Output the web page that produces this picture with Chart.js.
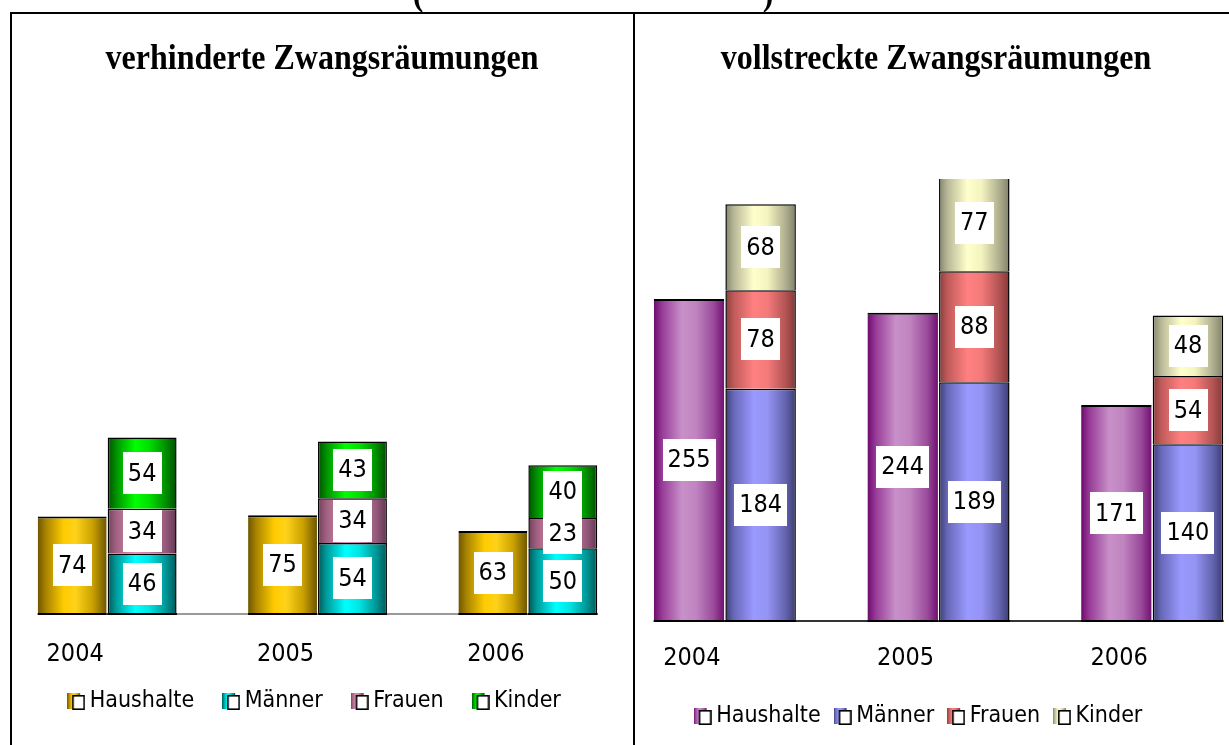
<!DOCTYPE html>
<html><head><meta charset="utf-8">
<script src="https://cdn.jsdelivr.net/npm/chart.js@4.4.1/dist/chart.umd.min.js"></script>
<style>
html,body{margin:0;padding:0;background:#fff;overflow:hidden;width:1229px;height:745px;}
#wrap{position:relative;width:1229px;height:745px;overflow:hidden;background:#fff;}
.c{position:absolute;top:0;}
.line{position:absolute;background:#000;z-index:5;}
.title{position:absolute;font-family:"Liberation Serif","Times New Roman",serif;font-weight:bold;font-size:32px;line-height:32px;white-space:nowrap;z-index:6;transform:translateX(-50%) scaleY(1.1);color:#000;}
</style></head><body>
<div id="wrap">
<div class="c" style="left:0;width:634px;height:780px;"><canvas id="c1"></canvas></div>
<div class="c" style="left:612px;width:660px;height:760px;"><canvas id="c2"></canvas></div>
<div class="line" style="left:10px;top:12px;width:1219px;height:2px"></div>
<div class="line" style="left:10px;top:12px;width:2px;height:733px"></div>
<div class="line" style="left:633px;top:12px;width:2px;height:733px"></div>
<div class="title" style="left:418px;top:-23px">(</div>
<div class="title" style="left:768px;top:-23px">)</div>
<div class="title" style="left:322px;top:41px">verhinderte Zwangsräumungen</div>
<div class="title" style="left:936px;top:41px">vollstreckte Zwangsräumungen</div>
</div>
<script>
// ---- data ----
const years = ['2004', '2005', '2006'];
const seriesNames = ['Haushalte', 'Männer', 'Frauen', 'Kinder'];
const verhHaushalte = [74, 75, 63];
const verhMaenner = [46, 54, 50];
const verhFrauen = [34, 34, 23];
const verhKinder = [54, 43, 40];
const vollHaushalte = [255, 244, 171];
const vollMaenner = [184, 189, 140];
const vollFrauen = [78, 88, 54];
const vollKinder = [68, 77, 48];

// ---- styles ----
const FAMILY = '"DejaVu Sans Condensed", "DejaVu Sans", sans-serif';
const leftStops = [
  [[0,'#6e5600'],[0.12,'#a88400'],[0.38,'#ffcc00'],[0.55,'#ffd21a'],[0.8,'#c9a000'],[1,'#6e5600']],
  [[0,'#005858'],[0.12,'#009a9a'],[0.4,'#00ffff'],[0.6,'#00e4e4'],[0.85,'#009494'],[1,'#005858']],
  [[0,'#704058'],[0.12,'#a06080'],[0.4,'#e090b4'],[0.6,'#cc80a2'],[0.85,'#94587a'],[1,'#603850']],
  [[0,'#005000'],[0.12,'#009000'],[0.4,'#00ff00'],[0.6,'#00e000'],[0.85,'#008c00'],[1,'#004c00']]
];
const rightStops = [
  [[0,'#6e0a6e'],[0.12,'#983c98'],[0.4,'#c890c8'],[0.6,'#c084c0'],[0.85,'#9a4a9a'],[1,'#701070']],
  [[0,'#3c3c78'],[0.12,'#6868b8'],[0.4,'#9999ff'],[0.6,'#9494f4'],[0.85,'#6464b0'],[1,'#3c3c74']],
  [[0,'#8a3c3c'],[0.12,'#c05a5a'],[0.4,'#ff8080'],[0.6,'#f47a7a'],[0.85,'#b45454'],[1,'#843838']],
  [[0,'#84846a'],[0.12,'#b8b898'],[0.4,'#ffffcc'],[0.6,'#f4f4c0'],[0.85,'#b0b090'],[1,'#80806a']]
];

function makeMarker(stops) {
  const c = document.createElement('canvas');
  c.width = 18; c.height = 17;
  const x = c.getContext('2d');
  const g = x.createLinearGradient(0, 0, 13, 0);
  stops.forEach(s => g.addColorStop(s[0], s[1]));
  x.fillStyle = g; x.fillRect(0, 0, 13, 16);
  x.fillStyle = '#fff'; x.fillRect(5, 2, 12, 14);
  x.strokeStyle = '#000'; x.lineWidth = 1.6; x.strokeRect(5.8, 2.8, 11.2, 13.4);
  return c;
}

const gradientPlugin = {
  id: 'cylGrad',
  beforeDatasetsDraw(chart) {
    const stops = chart.options.plugins.cylGrad.stops;
    const ctx = chart.ctx;
    chart.data.datasets.forEach((ds, i) => {
      chart.getDatasetMeta(i).data.forEach(el => {
        const l = el.x - el.width / 2, r = el.x + el.width / 2;
        const g = ctx.createLinearGradient(l, 0, r, 0);
        stops[i].forEach(s => g.addColorStop(s[0], s[1]));
        el.options = Object.assign({}, el.options, {backgroundColor: g});
      });
    });
  }
};

const baselinePlugin = {
  id: 'baseLine',
  afterDatasetsDraw(chart) {
    const ctx = chart.ctx;
    const y0 = chart.scales.y.getPixelForValue(0);
    let minX = Infinity, maxX = -Infinity;
    const spans = [];
    chart.data.datasets.forEach((ds, i) => {
      chart.getDatasetMeta(i).data.forEach(el => {
        const l = el.x - el.width / 2, r = el.x + el.width / 2;
        minX = Math.min(minX, l); maxX = Math.max(maxX, r);
        spans.push([l, r]);
      });
    });
    ctx.save();
    ctx.lineWidth = 2;
    ctx.strokeStyle = chart.options.plugins.baseLine.color;
    ctx.beginPath(); ctx.moveTo(minX, y0); ctx.lineTo(maxX, y0); ctx.stroke();
    ctx.strokeStyle = '#000';
    spans.forEach(s => { ctx.beginPath(); ctx.moveTo(s[0], y0); ctx.lineTo(s[1], y0); ctx.stroke(); });
    ctx.restore();
  }
};

const labelPlugin = {
  id: 'valLabels',
  afterDraw(chart) {
    const ctx = chart.ctx;
    ctx.save();
    ctx.font = '25px ' + FAMILY;
    ctx.textAlign = 'center';
    ctx.textBaseline = 'middle';
    chart.data.datasets.forEach((ds, i) => {
      chart.getDatasetMeta(i).data.forEach((el, j) => {
        const t = String(ds.data[j]);
        const cx = el.x, cy = (el.y + el.base) / 2;
        const w = ctx.measureText(t).width + 10, h = 42;
        ctx.fillStyle = '#fff';
        ctx.fillRect(Math.round(cx - w / 2), Math.round(cy - h / 2), Math.round(w), h);
        ctx.fillStyle = '#000';
        ctx.fillText(t, cx, cy + 1);
      });
    });
    ctx.restore();
  }
};

const legendShift = {
  id: 'legendShift',
  afterLayout(chart) {
    const o = chart.options.plugins.legendShift;
    const lg = chart.legend;
    if (!lg) return;
    lg.left += o.dx; lg.right += o.dx; lg.top += o.dy; lg.bottom += o.dy;
  }
};

function makeChart(id, vals, stops, cfg) {
  const markers = stops.map(makeMarker);
  const stackBorder = {top: 1.5, left: 1.5, right: 1.5, bottom: 0};
  const datasets = [
    {label: seriesNames[0], data: vals[0], stack: 'a', borderColor: '#000', borderWidth: {top: 2, left: 0, right: 0, bottom: 0}, borderSkipped: false},
    {label: seriesNames[1], data: vals[1], stack: 'b', borderColor: '#000', borderWidth: stackBorder, borderSkipped: false},
    {label: seriesNames[2], data: vals[2], stack: 'b', borderColor: '#000', borderWidth: stackBorder, borderSkipped: false},
    {label: seriesNames[3], data: vals[3], stack: 'b', borderColor: '#000', borderWidth: stackBorder, borderSkipped: false}
  ];
  datasets.forEach(d => { d.backgroundColor = '#888'; d.categoryPercentage = cfg.catPct; d.barPercentage = cfg.barPct; });
  return new Chart(document.getElementById(id), {
    type: 'bar',
    data: {labels: years, datasets},
    plugins: [gradientPlugin, baselinePlugin, labelPlugin, legendShift],
    options: {
      responsive: true,
      maintainAspectRatio: false,
      animation: false,
      events: [],
      layout: {padding: cfg.padding},
      scales: {
        x: {
          stacked: true,
          grid: {display: false, drawTicks: false},
          border: {display: false},
          ticks: {color: '#000', font: {size: 25, family: FAMILY}, padding: cfg.tickPad, labelOffset: cfg.labelOffset}
        },
        y: {stacked: true, display: false, min: 0, max: cfg.yMax}
      },
      plugins: {
        tooltip: {enabled: false},
        cylGrad: {stops},
        baseLine: {color: cfg.baseColor},
        legendShift: {dx: cfg.legendDx, dy: cfg.legendDy},
        legend: {
          position: 'bottom',
          labels: {
            usePointStyle: true,
            pointStyleWidth: 4,
            padding: cfg.legendPad,
            color: '#000',
            font: {size: 23, family: FAMILY},
            generateLabels: (chart) => chart.data.datasets.map((ds, i) => ({
              text: ds.label, pointStyle: markers[i], fillStyle: '#fff', strokeStyle: '#000',
              lineWidth: 0, hidden: false, datasetIndex: i, fontColor: '#000'
            }))
          }
        }
      }
    }
  });
}

makeChart('c1', [verhHaushalte, verhMaenner, verhFrauen, verhKinder], leftStops, {
  catPct: 0.665, barPct: 0.985, yMax: 300,
  padding: {left: 2, right: 1, top: 219, bottom: 18},
  tickPad: 25, labelOffset: -32, baseColor: '#9a9a9a', legendPad: 35, legendDx: 0, legendDy: -39
});
makeChart('c2', [vollHaushalte, vollMaenner, vollFrauen, vollKinder], rightStops, {
  catPct: 0.67, barPct: 0.985, yMax: 350,
  padding: {left: 6, right: 13, top: 179, bottom: 12},
  tickPad: 22, labelOffset: -33, baseColor: '#333', legendPad: 20, legendDx: -17, legendDy: -10
});
</script>
</body></html>
